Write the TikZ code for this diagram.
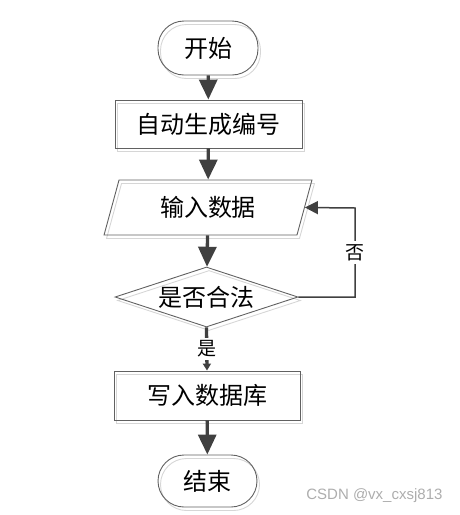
\documentclass[tikz,border=0pt]{standalone}
\usepackage{fontspec}
\newfontfamily\cjk{Noto Sans CJK SC}
\newfontfamily\wmfont{Liberation Sans}
\usetikzlibrary{shapes.geometric,arrows.meta,shadows}
\begin{document}
\begin{tikzpicture}[x=1pt,y=-1pt,
  every node/.style={font=\cjk\fontsize{24}{28}\selectfont},
  boxline/.style={draw=black!62, line width=0.9pt,
    general shadow={shadow xshift=2.5pt, shadow yshift=-3.5pt, draw=black!16, line width=0.9pt}},
  term/.style={boxline, rectangle, rounded corners=26pt, minimum width=100pt, minimum height=54pt, inner sep=0pt},
  proc/.style={boxline, rectangle, minimum width=187pt, minimum height=48pt, inner sep=0pt},
  io/.style={boxline, trapezium, trapezium left angle=70, trapezium right angle=110,
    trapezium stretches=true, minimum width=208pt, minimum height=55pt, inner sep=0pt},
  dec/.style={boxline, diamond, aspect=3, minimum width=183pt, minimum height=60pt, inner sep=0pt},
  flow/.style={draw=black!75, line width=3.3pt, -{Triangle[length=20pt,width=18pt]}},
  flowsmall/.style={draw=black!75, line width=3.3pt, -{Triangle[length=7pt,width=8pt]}},
  loopline/.style={draw=black!75, line width=1.5pt, -{Triangle[length=13pt,width=13pt]}},
  lab/.style={font=\cjk\fontsize{19}{22}\selectfont, fill=white, inner xsep=1pt, inner ysep=3pt}
]
\useasboundingbox (0,0) rectangle (460,515);
\node[term] (start) at (208,48) {开始};
\node[proc] (gen) at (208.5,124) {自动生成编号};
\node[io] (inp) at (208,207.5) {输入数据};
\node[dec] (dec) at (206.5,297) {是否合法};
\node[proc, minimum width=186pt, minimum height=49pt] (wr) at (207,395.5) {写入数据库};
\node[term, minimum width=99pt, minimum height=52pt] (stop) at (207.5,481) {结束};
\coordinate (lp) at (355,208);
\draw[flow] (start) -- (gen);
\draw[flow] (gen) -- (inp);
\draw[flow] (inp) -- (dec);
\draw[flowsmall] (dec.south) -- node[lab] {是} (wr.north);
\draw[flow] (wr) -- (stop);
\draw[loopline] (dec.east) -| node[lab, pos=0.75] {否} (lp) -- (inp.east);
\node[font=\wmfont\fontsize{15}{18}\selectfont, text=black!32, anchor=east] (wm) at (446,496) {CSDN @vx\_cxsj813};
\end{tikzpicture}
\end{document}
